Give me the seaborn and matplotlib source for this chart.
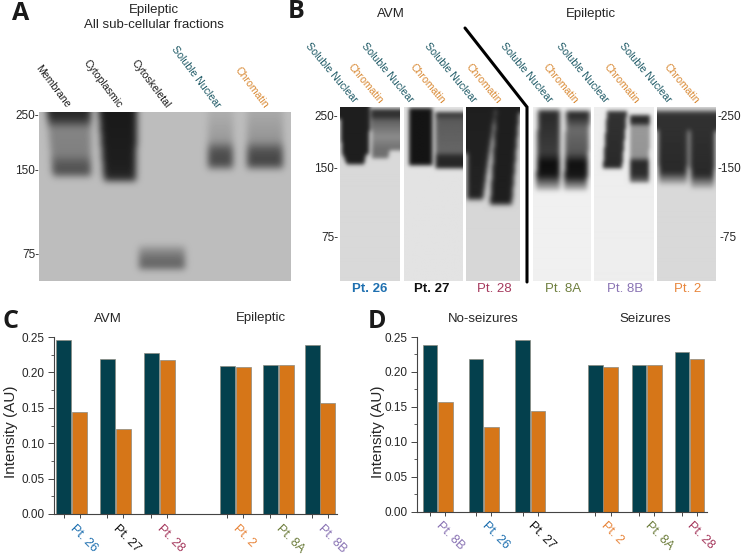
import numpy as np
import pandas as pd
import seaborn as sns
import matplotlib.pyplot as plt
from matplotlib.ticker import MultipleLocator

sns.set_style('ticks')
plt.rcParams['font.family'] = ['Liberation Sans', 'DejaVu Sans']

W, H = 750, 556

# bar chart values
patients_c = ['Pt. 26', 'Pt. 27', 'Pt. 28', 'Pt. 2', 'Pt. 8A', 'Pt. 8B']
soluble_c = [0.246, 0.219, 0.228, 0.2095, 0.210, 0.238]
chromatin_c = [0.144, 0.1205, 0.218, 0.207, 0.210, 0.157]

patients_d = ['Pt. 8B', 'Pt. 26', 'Pt. 27', 'Pt. 2', 'Pt. 8A', 'Pt. 28']
soluble_d = [0.238, 0.219, 0.246, 0.2095, 0.210, 0.228]
chromatin_d = [0.157, 0.1205, 0.144, 0.207, 0.2095, 0.218]

# group positions on the x axis, there is a gap between the two cohorts
slots_c = [0, 1, 2.01, 3.75, 4.74, 5.70]
slots_d = [0, 1, 2.01, 3.59, 4.54, 5.47]

patient_colors = {
    'Pt. 26': '#1f70b0', 'Pt. 27': '#111111', 'Pt. 28': '#a63a5e',
    'Pt. 2': '#e8863c', 'Pt. 8A': '#6f7f3f', 'Pt. 8B': '#8a74b4',
}
NAVY = '#04404d'
ORANGE = '#d67618'
SOL_TXT = '#1f5a66'
CHR_TXT = '#d98a35'
TXT = '#262626'

# blots: width, height, background, blur, lanes
# a lane is (left top, right top, left bottom, right bottom, y stops, greys)
blot_a = (252, 169, 0.74, 3.5, [
    (8, 52, 14, 52, [0, 7, 16, 42, 50, 60, 65], [0.15, 0.20, 0.52, 0.50, 0.36, 0.30, 0.60]),
    (60, 98, 65, 97, [0, 55, 69], [0.10, 0.12, 0.18]),
    (100, 146, 100, 146, [134, 146, 157], [0.62, 0.42, 0.38]),
    (169, 194, 169, 194, [0, 28, 38, 50, 57], [0.68, 0.60, 0.32, 0.28, 0.50]),
    (208, 244, 208, 244, [0, 28, 38, 50, 57], [0.66, 0.58, 0.32, 0.26, 0.50]),
])
blots_b = [
    (60, 174, 0.85, 2.0, [
        (0, 30, 2, 29, [0, 48], [0.12, 0.12]),
        (3, 26, 7, 24, [48, 58], [0.12, 0.12]),
        (31, 60, 32, 60, [3, 10, 14, 30, 44], [0.18, 0.20, 0.38, 0.55, 0.42]),
        (32, 50, 32, 48, [42, 52], [0.44, 0.44]),
    ]),
    (58, 174, 0.89, 2.0, [
        (5, 28, 5, 28, [2, 59], [0.08, 0.08]),
        (31, 58, 31, 58, [6, 14, 45, 50, 62], [0.18, 0.36, 0.40, 0.16, 0.14]),
    ]),
    (54, 174, 0.84, 2.5, [
        (0, 30, 1, 17, [0, 93], [0.12, 0.14]),
        (30, 54, 24, 46, [0, 98], [0.12, 0.12]),
    ]),
    (58, 174, 0.94, 2.5, [
        (5, 27, 3, 27, [4, 46, 56, 68, 84], [0.16, 0.24, 0.05, 0.08, 0.80]),
        (33, 57, 31, 54, [5, 12, 22, 46, 56, 70, 84], [0.10, 0.22, 0.42, 0.34, 0.06, 0.10, 0.80]),
    ]),
    (60, 174, 0.93, 2.0, [
        (13, 33, 9, 28, [5, 62], [0.20, 0.16]),
        (36, 56, 36, 55, [9, 16, 20, 50, 55, 68, 76], [0.18, 0.16, 0.60, 0.58, 0.16, 0.18, 0.50]),
    ]),
    (59, 174, 0.85, 2.5, [
        (0, 32, 2, 30, [5, 65, 78], [0.20, 0.16, 0.78]),
        (32, 59, 34, 57, [5, 68, 82], [0.20, 0.16, 0.78]),
    ]),
]


def blur(img, sigma):
    # simple separable gaussian, edges padded with their own value
    r = int(3 * sigma)
    kernel = np.exp(-0.5 * (np.arange(-r, r + 1) / sigma) ** 2)
    kernel /= kernel.sum()
    pad = np.pad(img, r, mode='edge')
    pad = np.apply_along_axis(lambda v: np.convolve(v, kernel, mode='same'), 0, pad)
    pad = np.apply_along_axis(lambda v: np.convolve(v, kernel, mode='same'), 1, pad)
    return pad[r:-r, r:-r]


def render_blot(width, height, bg, sigma, lanes):
    img = np.full((height, width), float(bg))
    for lt, rt, lb, rb, stops, greys in lanes:
        for y in range(int(stops[0]), int(stops[-1])):
            t = (y - stops[0]) / (stops[-1] - stops[0])
            x0 = int(round(lt + (lb - lt) * t))
            x1 = int(round(rt + (rb - rt) * t))
            img[y, x0:x1] = np.minimum(img[y, x0:x1], np.interp(y, stops, greys))
    return blur(img, sigma)


def px_axes(fig, x0, y0, x1, y1):
    # axes given in picture pixels, y going down
    return fig.add_axes([x0 / W, 1 - y1 / H, (x1 - x0) / W, (y1 - y0) / H])


def draw_blot(fig, box, blot):
    ax = px_axes(fig, *box)
    ax.imshow(render_blot(*blot), cmap='gray', vmin=0, vmax=1, aspect='auto', interpolation='bilinear')
    ax.axis('off')


def draw_bars(fig, box, patients, soluble, chromatin, slots, xlim, bar_width):
    ax = px_axes(fig, *box)
    df = pd.DataFrame({
        'slot': slots * 2,
        'fraction': ['Soluble Nuclear'] * 6 + ['Chromatin'] * 6,
        'intensity': soluble + chromatin,
    })
    sns.barplot(
        data=df, x='slot', y='intensity', hue='fraction', native_scale=True,
        palette=[NAVY, ORANGE], saturation=1, width=bar_width, gap=0.06,
        edgecolor='#8a8a80', linewidth=0.5, legend=False, ax=ax
    )
    sns.despine(ax=ax)
    ax.set_ylim(0, 0.25)
    ax.set_xlim(*xlim)
    ax.set_ylabel('')
    ax.set_xlabel('')
    ax.yaxis.set_minor_locator(MultipleLocator(0.025))
    ax.set_yticks(np.arange(6) * 0.05, [f'{v:.2f}' for v in np.arange(6) * 0.05])
    ax.tick_params(axis='y', which='major', length=4, width=0.7, color='#444444', labelsize=8.5, pad=3, labelcolor=TXT)
    ax.tick_params(axis='y', which='minor', length=2, width=0.6, color='#444444')
    # ticks under the bars, names under the middle of each group
    centers = [p.get_x() + p.get_width() / 2 for p in ax.patches if p.get_width() > 0]
    ax.set_xticks(centers, minor=True)
    ax.set_xticks(slots, patients)
    ax.tick_params(axis='x', which='major', length=0, pad=9, labelsize=9)
    ax.tick_params(axis='x', which='minor', length=3, width=0.7, color='#444444')
    for lab, name in zip(ax.get_xticklabels(), patients):
        lab.set_rotation(-45)
        lab.set_rotation_mode('anchor')
        lab.set_ha('left')
        lab.set_va('center')
        lab.set_color(patient_colors[name])
    for side in ['left', 'bottom']:
        ax.spines[side].set_linewidth(0.8)
        ax.spines[side].set_color('#444444')
    return ax


fig = plt.figure(figsize=(W / 100, H / 100), dpi=100)

draw_blot(fig, (39, 112, 291, 281), blot_a)
for box, blot in zip(
    [(340, 107, 400, 281), (404, 107, 462, 281), (466, 107, 520, 281),
     (533, 107, 591, 281), (594, 107, 654, 281), (657, 107, 716, 281)],
    blots_b,
):
    draw_blot(fig, box, blot)

draw_bars(fig, (54, 337, 337, 514), patients_c, soluble_c, chromatin_c, slots_c, (-0.41, 6.09), 0.76)
draw_bars(fig, (417, 337, 707, 511.5), patients_d, soluble_d, chromatin_d, slots_d, (-0.45, 5.85), 0.72)

# overlay in picture pixels for the labels around the panels
over = fig.add_axes([0, 0, 1, 1], zorder=10)
over.set_xlim(0, W)
over.set_ylim(H, 0)
over.axis('off')
over.patch.set_alpha(0)

for letter, x, y in [('A', 12, 13), ('B', 288, 12), ('C', 2, 321), ('D', 368, 321)]:
    over.text(x, y, letter, fontsize=18, fontweight='bold', color='#1a1a1a', ha='left', va='center', family='Open Sans')

for txt, x, y in [('Epileptic', 154, 10), ('All sub-cellular fractions', 154, 25), ('AVM', 391, 14),
                  ('Epileptic', 591, 14), ('AVM', 108, 319), ('Epileptic', 261, 318),
                  ('No-seizures', 483, 319), ('Seizures', 645, 319)]:
    over.text(x, y, txt, fontsize=9.5, color=TXT, ha='center', va='center')

for x in [11, 378]:
    over.text(x, 432, 'Intensity (AU)', fontsize=11, color=TXT, rotation=90, ha='center', va='center')

for txt, x, col in [('Membrane', 68, '#1a1a1a'), ('Cytoplasmic', 120, '#1a1a1a'), ('Cytoskeletal', 168, '#1a1a1a'),
                    ('Soluble Nuclear', 218, SOL_TXT), ('Chromatin', 266, CHR_TXT)]:
    over.text(x, 107, txt, fontsize=7.6, color=col, rotation=-53, rotation_mode='anchor', ha='right', va='center')

for x in [355, 411, 474, 550, 606, 669]:
    over.text(x, 101, 'Soluble Nuclear', fontsize=7.6, color=SOL_TXT, rotation=-50, rotation_mode='anchor', ha='right', va='center')
for x in [381, 443, 499, 576, 637, 697]:
    over.text(x, 102, 'Chromatin', fontsize=7.6, color=CHR_TXT, rotation=-50, rotation_mode='anchor', ha='right', va='center')

# molecular weight marks
for txt, y in [('250-', 116), ('150-', 171), ('75-', 255)]:
    over.text(39, y, txt, fontsize=8.5, color=TXT, ha='right', va='center')
for txt, y in [('250-', 117), ('150-', 169), ('75-', 238)]:
    over.text(338, y, txt, fontsize=8.5, color=TXT, ha='right', va='center')
for txt, x, y in [('-250', 717, 117), ('-150', 717, 169), ('-75', 720, 238)]:
    over.text(x, y, txt, fontsize=8.5, color=TXT, ha='left', va='center')

# patient names under the blots
for name, x, bold in [('Pt. 26', 370, True), ('Pt. 27', 432, True), ('Pt. 28', 494, False),
                      ('Pt. 8A', 563, False), ('Pt. 8B', 625, False), ('Pt. 2', 688, False)]:
    over.text(x, 289, name, fontsize=9.5, color=patient_colors[name], fontweight='bold' if bold else 'normal', ha='center', va='center')

# divider between the two cohorts
over.plot([465, 527, 527], [28, 107, 282], color='black', lw=2.2, solid_joinstyle='miter')

fig.savefig('out.png', dpi=100)
